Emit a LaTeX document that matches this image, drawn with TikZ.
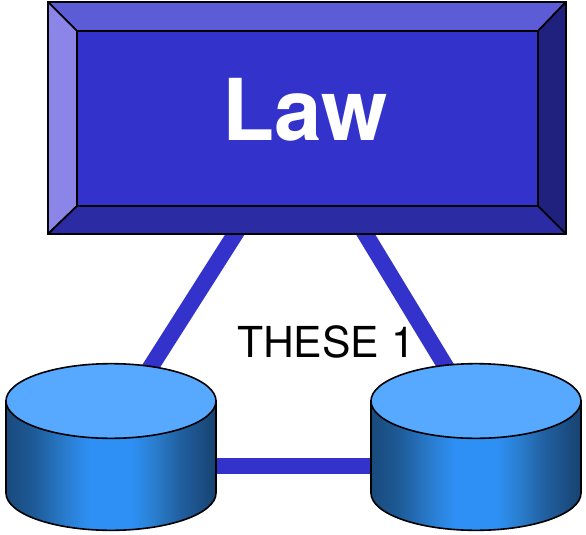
\documentclass[tikz,border=0pt]{standalone}
\usepackage{fontspec}
\setmainfont{TeX Gyre Heros}
\usetikzlibrary{shapes.geometric}
\definecolor{lawface}{HTML}{3333CC}
\definecolor{lawtop}{HTML}{5C5CD6}
\definecolor{lawleft}{HTML}{8A85E6}
\definecolor{lawright}{HTML}{20207F}
\definecolor{lawbottom}{HTML}{2B2BA3}
\definecolor{dbtopfill}{HTML}{57A8FF}
\definecolor{dbedgeL}{HTML}{1A4A7C}
\definecolor{dbmidL}{HTML}{1D5A96}
\definecolor{dbriseL}{HTML}{2A7DD0}
\definecolor{dbglow}{HTML}{2E90F5}
\definecolor{dbriseR}{HTML}{2A7FD0}
\definecolor{dbmidR}{HTML}{215F9F}
\definecolor{dbedgeR}{HTML}{174270}
\pgfdeclarehorizontalshading{dbshade}{100bp}{
  color(0bp)=(dbedgeL); color(25bp)=(dbedgeL);
  color(31.5bp)=(dbmidL); color(39.5bp)=(dbriseL); color(45bp)=(dbglow);
  color(55bp)=(dbglow); color(60bp)=(dbriseR); color(66.5bp)=(dbmidR);
  color(75bp)=(dbedgeR); color(100bp)=(dbedgeR)}
\tikzset{
  boxedge/.style={draw=black, line width=1.3pt, line join=round, outer sep=0pt},
  link/.style={draw=lawface, line width=12.3pt},
  dbtop/.style={ellipse, draw=black, line width=1.2pt, fill=dbtopfill, inner sep=0pt, minimum width=157.5pt, minimum height=56pt}
}
\begin{document}
\begin{tikzpicture}[x=.75pt,y=-.75pt]
  \useasboundingbox (0,0) rectangle (586,535);
  \coordinate (lawL) at (246,217);
  \coordinate (lawR) at (355,217);
  \coordinate (dbLa) at (136,390);
  \coordinate (dbRa) at (460,390);
  \coordinate (dbLs) at (216,466);
  \coordinate (dbRs) at (371,466);

  \draw[link] (lawL) -- (dbLa);
  \draw[link] (lawR) -- (dbRa);
  \draw[link] (dbLs) -- (dbRs);

  \node[boxedge, rectangle, inner sep=0pt, minimum width=388.5pt, minimum height=174pt] (lawbox) at (307,118) {};
  \node[boxedge, rectangle, fill=lawface, inner sep=0pt, minimum width=345.75pt, minimum height=131.25pt] (lawin) at (307.5,118.5) {};
  \draw[boxedge, fill=lawtop] (lawbox.north west) -- (lawbox.north east) -- (lawin.north east) -- (lawin.north west) -- cycle;
  \draw[boxedge, fill=lawleft] (lawbox.north west) -- (lawin.north west) -- (lawin.south west) -- (lawbox.south west) -- cycle;
  \draw[boxedge, fill=lawright] (lawbox.north east) -- (lawbox.south east) -- (lawin.south east) -- (lawin.north east) -- cycle;
  \draw[boxedge, fill=lawbottom] (lawbox.south west) -- (lawin.south west) -- (lawin.south east) -- (lawbox.south east) -- cycle;
  \node[text=white, font=\fontsize{64}{64}\selectfont\bfseries] (lawtext) at (305,110) {Law};

  \foreach \name/\x in {dbL/111, dbR/476} {
    \path[draw=black, line width=1.2pt, shading=dbshade] (\x-105,401) -- (\x-105,493) arc[start angle=180, end angle=360, x radius=78.75pt, y radius=28pt] -- (\x+105,401) -- cycle;
    \node[dbtop] (\name) at (\x,401) {};
  }

  \node[font=\fontsize{32}{32}\selectfont] (these) at (326,342) {THESE 1};
\end{tikzpicture}
\end{document}
